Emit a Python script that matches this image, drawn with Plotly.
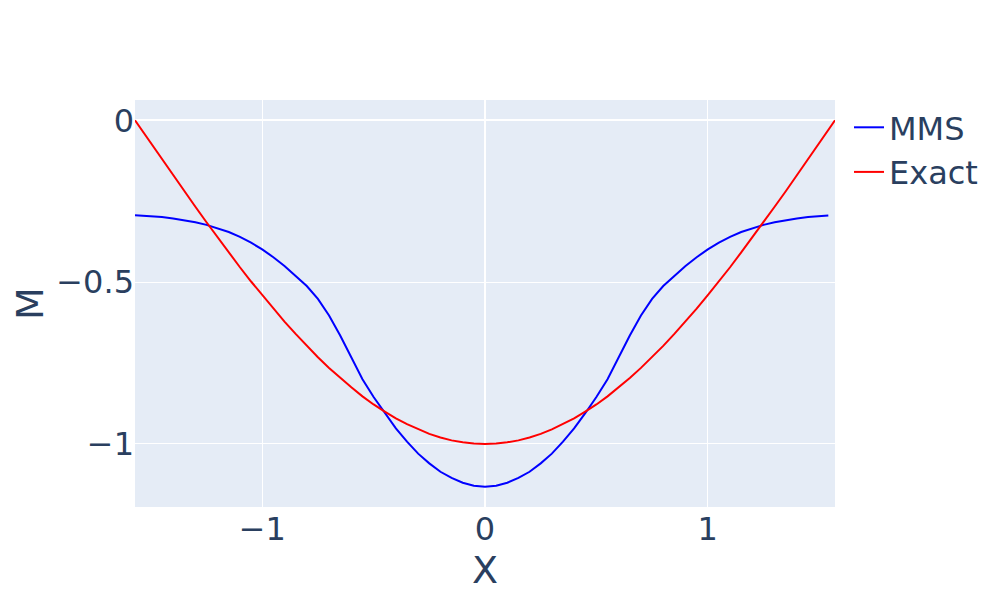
import plotly.graph_objects as go

# -------------------------------------------------------------
# Data
# -------------------------------------------------------------
x_mms = [-1.571, -1.5, -1.45, -1.4, -1.35, -1.3, -1.25, -1.2, -1.15, -1.1, -1.05,
         -1.0, -0.95, -0.9, -0.85, -0.8, -0.75, -0.7, -0.65, -0.6, -0.55,
         -0.5, -0.45, -0.4, -0.35, -0.3, -0.25, -0.2, -0.15, -0.1, -0.05,
         0.0, 0.05, 0.1, 0.15, 0.2, 0.25, 0.3, 0.35, 0.4, 0.45,
         0.5, 0.55, 0.6, 0.65, 0.7, 0.75, 0.8, 0.85, 0.9, 0.95,
         1.0, 1.05, 1.1, 1.15, 1.2, 1.25, 1.3, 1.35, 1.4, 1.45,
         1.5, 1.541]
m_mms = [-0.293, -0.296, -0.299, -0.303, -0.308, -0.315, -0.323, -0.333, -0.345, -0.360, -0.378,
         -0.399, -0.423, -0.450, -0.480, -0.512, -0.552, -0.603, -0.665, -0.732, -0.800,
         -0.855, -0.905, -0.952, -0.993, -1.030, -1.060, -1.086, -1.105, -1.120, -1.129,
         -1.132, -1.129, -1.120, -1.105, -1.086, -1.060, -1.030, -0.993, -0.952, -0.905,
         -0.855, -0.800, -0.732, -0.665, -0.603, -0.552, -0.512, -0.480, -0.450, -0.423,
         -0.399, -0.378, -0.360, -0.345, -0.333, -0.323, -0.315, -0.308, -0.303, -0.299,
         -0.296, -0.294]

x_exact = [-1.571, -1.5, -1.45, -1.4, -1.35, -1.3, -1.25, -1.2, -1.15, -1.1, -1.05,
           -1.0, -0.95, -0.9, -0.85, -0.8, -0.75, -0.7, -0.65, -0.6, -0.55,
           -0.5, -0.45, -0.4, -0.35, -0.3, -0.25, -0.2, -0.15, -0.1, -0.05,
           0.0, 0.05, 0.1, 0.15, 0.2, 0.25, 0.3, 0.35, 0.4, 0.45,
           0.5, 0.55, 0.6, 0.65, 0.7, 0.75, 0.8, 0.85, 0.9, 0.95,
           1.0, 1.05, 1.1, 1.15, 1.2, 1.25, 1.3, 1.35, 1.4, 1.45,
           1.5, 1.571]
m_exact = [0.0, -0.071, -0.121, -0.170, -0.219, -0.267, -0.315, -0.362, -0.408, -0.454, -0.498,
           -0.540, -0.582, -0.622, -0.660, -0.697, -0.732, -0.765, -0.796, -0.825, -0.853,
           -0.878, -0.900, -0.921, -0.939, -0.955, -0.969, -0.980, -0.989, -0.995, -0.999,
           -1.0, -0.999, -0.995, -0.989, -0.980, -0.969, -0.955, -0.939, -0.921, -0.900,
           -0.878, -0.853, -0.825, -0.796, -0.765, -0.732, -0.697, -0.660, -0.622, -0.582,
           -0.540, -0.498, -0.454, -0.408, -0.362, -0.315, -0.267, -0.219, -0.170, -0.121,
           -0.071, 0.0]

# -------------------------------------------------------------
# Plot
# -------------------------------------------------------------
fig = go.Figure()
fig.add_trace(go.Scatter(x=x_mms, y=m_mms, mode="lines", name="MMS",
                         line=dict(color="blue", width=2)))
fig.add_trace(go.Scatter(x=x_exact, y=m_exact, mode="lines", name="Exact",
                         line=dict(color="red", width=2)))

fig.update_layout(
    template="plotly",
    width=1000,
    height=600,
    font=dict(family="DejaVu Sans", size=32),
    xaxis_title="X",
    yaxis_title="M",
    margin=dict(l=127, r=173, t=92, b=101, autoexpand=False),
)
fig.update_xaxes(dtick=1, title_standoff=4)
fig.update_yaxes(dtick=0.5, title_standoff=8)

fig.write_html("out.html")
